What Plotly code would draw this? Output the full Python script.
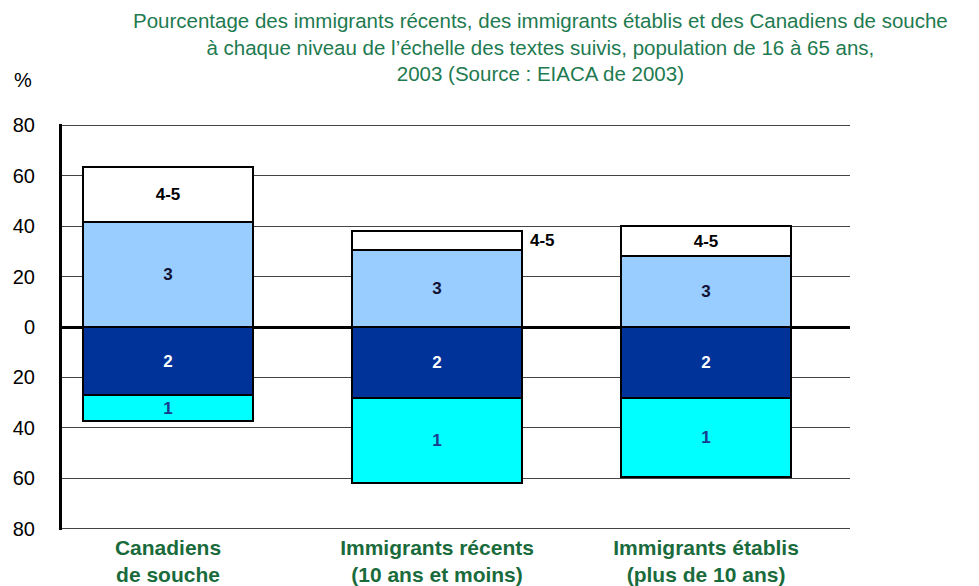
import plotly.graph_objects as go

categories = ["Canadiens<br>de souche", "Immigrants récents<br>(10 ans et moins)", "Immigrants établis<br>(plus de 10 ans)"]
level_1 = [10.4, 34.0, 31.3]
level_2 = [26.9, 28.0, 28.2]
level_3 = [41.6, 30.5, 28.2]
level_45 = [21.7, 7.5, 11.8]
ytick_vals = [-80, -60, -40, -20, 0, 20, 40, 60, 80]
ytick_text = ["80", "60", "40", "20", "0", "20", "40", "60", "80"]

title_text = ("Pourcentage des immigrants récents, des immigrants établis et des Canadiens de souche<br>"
              "à chaque niveau de l’échelle des textes suivis, population de 16 à 65 ans,<br>"
              "2003 (Source : EIACA de 2003)")

xpos = list(range(len(categories)))
FONT = "Liberation Sans, Arial, sans-serif"
BW = 0.63
line = dict(color="black", width=2)

W, H = 979, 586
ML, MR, MT, MB = 62, 129, 124, 56
PW, PH = W - ML - MR, H - MT - MB

def px_x(p):
    return (p - ML) / PW

def px_y(p):
    return (H - MB - p) / PH

fig = go.Figure()
fig.add_trace(go.Bar(x=xpos, y=[-v for v in level_2], width=BW, name="2",
                     marker=dict(color="#003399", line=line),
                     text=["<b>2</b>"] * 3, textposition="inside", insidetextanchor="middle",
                     textangle=0, textfont=dict(color="white", size=17, family=FONT)))
fig.add_trace(go.Bar(x=xpos, y=[-v for v in level_1], width=BW, name="1",
                     marker=dict(color="#00FFFF", line=line),
                     text=["<b>1</b>"] * 3, textposition="inside", insidetextanchor="middle",
                     textangle=0, textfont=dict(color="#1a3a8f", size=17, family=FONT)))
fig.add_trace(go.Bar(x=xpos, y=level_3, width=BW, name="3",
                     marker=dict(color="#99CCFF", line=line),
                     text=["<b>3</b>"] * 3, textposition="inside", insidetextanchor="middle",
                     textangle=0, textfont=dict(color="#111133", size=17, family=FONT)))
fig.add_trace(go.Bar(x=xpos, y=level_45, width=BW, name="4-5",
                     marker=dict(color="white", line=line),
                     text=["<b>4-5</b>", "", "<b>4-5</b>"], textposition="inside", insidetextanchor="middle",
                     textangle=0, textfont=dict(color="black", size=17, family=FONT)))

# outside label for the small 4-5 segment of the recent immigrants
fig.add_annotation(x=1 + BW / 2, y=level_3[1] + level_45[1] / 2, xref="x", yref="y",
                   text="<b>4-5</b>", showarrow=False, xanchor="left", xshift=6,
                   font=dict(color="black", size=17, family=FONT))

fig.add_annotation(x=px_x(23), y=px_y(80), xref="paper", yref="paper",
                   xanchor="center", yanchor="middle",
                   text="%", showarrow=False, font=dict(color="black", size=20, family=FONT))

fig.add_annotation(x=px_x(540), y=px_y(47), xref="paper", yref="paper",
                   xanchor="center", yanchor="middle", align="center",
                   text=title_text, showarrow=False,
                   font=dict(color="#1e7a50", size=20.5, family=FONT))

fig.update_layout(
    width=W, height=H,
    margin=dict(l=ML, r=MR, t=MT, b=MB),
    barmode="relative",
    bargap=0,
    showlegend=False,
    plot_bgcolor="white", paper_bgcolor="white",
    xaxis=dict(range=[-0.394, 2.535], tickvals=xpos, ticktext=["<b>%s</b>" % c for c in categories],
               showline=False, showgrid=False, zeroline=False, ticks="", automargin=False,
               ticklabelstandoff=3,
               tickfont=dict(color="#1a6b3c", size=21, family=FONT)),
    yaxis=dict(range=[-80.5, 80.5], tickvals=ytick_vals, ticktext=ytick_text,
               showline=True, linecolor="black", linewidth=3,
               showgrid=True, gridcolor="#444444", gridwidth=1,
               zeroline=True, zerolinecolor="black", zerolinewidth=3,
               ticks="", ticklabelstandoff=20, automargin=False,
               tickfont=dict(color="black", size=20, family=FONT)),
)

fig.write_html("out.html", config={"displayModeBar": False},
               post_script="document.body.style.margin='0';document.body.style.padding='0';")
